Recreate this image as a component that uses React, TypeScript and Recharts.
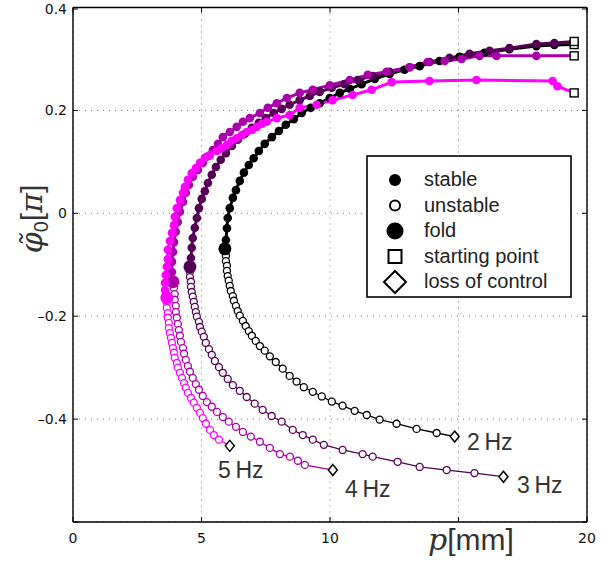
import React from "react";
import { LineChart, Line, XAxis, YAxis, CartesianGrid } from "recharts";

type Pt = [number, number];

// tick values
const xTicks = [0, 5, 10, 15, 20];
const yTicks = [-0.6, -0.4, -0.2, 0, 0.2, 0.4];
const xTickLabels: Record<string, string> = { "0": "0", "5": "5", "10": "10", "20": "20" };
const yTickLabels: Record<string, string> = {
  "-0.4": "\u20130.4",
  "-0.2": "\u20130.2",
  "0": "0",
  "0.2": "0.2",
  "0.4": "0.4",
};

// 2 Hz: branches start at the fold point
const stable2Hz: Pt[] = [
  [5.91, -0.069], [5.95, -0.052], [5.99, -0.029], [6.02, -0.009], [6.1, 0.01], [6.22, 0.03], [6.34, 0.045],
  [6.49, 0.063], [6.65, 0.079], [6.84, 0.094], [7.03, 0.107], [7.23, 0.121], [7.46, 0.135], [7.74, 0.148],
  [8.01, 0.16], [8.28, 0.172], [8.59, 0.183], [8.9, 0.195], [9.25, 0.205], [9.6, 0.214], [9.99, 0.224],
  [10.38, 0.234], [10.77, 0.242], [11.23, 0.251], [11.74, 0.261], [12.32, 0.271], [12.9, 0.279], [13.49, 0.286],
  [14.26, 0.296], [15.04, 0.304], [16.01, 0.312], [16.98, 0.319], [18.03, 0.325], [18.73, 0.327], [19.5, 0.328],
];
const unstable2Hz: Pt[] = [
  [5.91, -0.069], [5.95, -0.083], [5.95, -0.093], [5.99, -0.102], [5.99, -0.112], [6.02, -0.122], [6.06, -0.131],
  [6.1, -0.141], [6.14, -0.151], [6.22, -0.161], [6.26, -0.17], [6.34, -0.18], [6.41, -0.19], [6.49, -0.199],
  [6.61, -0.209], [6.72, -0.219], [6.84, -0.229], [6.96, -0.238], [7.11, -0.248], [7.27, -0.258], [7.46, -0.267],
  [7.66, -0.278], [7.89, -0.289], [8.16, -0.302], [8.43, -0.316], [8.7, -0.327], [8.98, -0.338], [9.33, -0.347],
  [9.68, -0.356], [10.07, -0.366], [10.49, -0.374], [10.96, -0.384], [11.43, -0.392], [11.93, -0.401],
  [12.59, -0.409], [13.37, -0.419], [14.15, -0.427], [14.85, -0.434],
];

// 3 Hz
const stable3Hz: Pt[] = [
  [4.55, -0.104], [4.59, -0.087], [4.62, -0.067], [4.66, -0.048], [4.74, -0.028], [4.82, -0.009], [4.9, 0.01],
  [5.01, 0.028], [5.13, 0.043], [5.25, 0.059], [5.4, 0.075], [5.56, 0.09], [5.75, 0.104], [5.95, 0.117],
  [6.18, 0.131], [6.41, 0.143], [6.68, 0.154], [6.96, 0.166], [7.23, 0.176], [7.5, 0.185], [7.81, 0.195],
  [8.12, 0.203], [8.43, 0.211], [8.82, 0.22], [9.21, 0.228], [9.6, 0.236], [10.07, 0.244], [10.57, 0.251],
  [11.08, 0.259], [11.66, 0.267], [12.32, 0.275], [13.1, 0.284], [13.87, 0.294], [14.65, 0.302], [15.43, 0.31],
  [16.21, 0.316], [16.98, 0.321], [18.03, 0.329], [18.73, 0.331], [19.5, 0.334],
];
const unstable3Hz: Pt[] = [
  [4.55, -0.104], [4.55, -0.114], [4.55, -0.124], [4.59, -0.133], [4.59, -0.143], [4.62, -0.153], [4.66, -0.162],
  [4.7, -0.172], [4.74, -0.182], [4.78, -0.192], [4.82, -0.201], [4.9, -0.211], [4.94, -0.221], [5.01, -0.23],
  [5.09, -0.24], [5.17, -0.252], [5.29, -0.264], [5.4, -0.275], [5.52, -0.287], [5.68, -0.299], [5.83, -0.31],
  [6.02, -0.322], [6.22, -0.334], [6.49, -0.345], [6.76, -0.357], [7.07, -0.37], [7.38, -0.382], [7.73, -0.394],
  [8.12, -0.405], [8.55, -0.421], [8.94, -0.431], [9.33, -0.44], [9.76, -0.45], [10.49, -0.46], [11.27, -0.468],
  [11.66, -0.473], [12.63, -0.483], [13.49, -0.493], [14.54, -0.499], [15.62, -0.505], [16.75, -0.512],
];

// 4 Hz
const stable4Hz: Pt[] = [
  [3.89, -0.133], [3.85, -0.114], [3.85, -0.094], [3.89, -0.075], [3.93, -0.056], [4.0, -0.036], [4.08, -0.017],
  [4.16, 0.003], [4.28, 0.022], [4.39, 0.04], [4.51, 0.055], [4.66, 0.071], [4.86, 0.084], [5.05, 0.098],
  [5.25, 0.111], [5.44, 0.123], [5.64, 0.135], [5.83, 0.148], [6.1, 0.158], [6.37, 0.168], [6.61, 0.178],
  [6.88, 0.185], [7.27, 0.195], [7.58, 0.205], [7.93, 0.214], [8.32, 0.224], [8.82, 0.234], [9.33, 0.24],
  [9.99, 0.249], [10.77, 0.259], [11.47, 0.269], [12.2, 0.275], [13.1, 0.284], [13.8, 0.294], [14.46, 0.296],
  [15.12, 0.3], [15.82, 0.306], [16.48, 0.306], [18.03, 0.306], [19.5, 0.306],
];
const unstable4Hz: Pt[] = [
  [3.89, -0.133], [3.93, -0.145], [3.96, -0.157], [3.96, -0.168], [4.0, -0.18], [4.0, -0.192], [4.04, -0.203],
  [4.08, -0.215], [4.12, -0.227], [4.16, -0.238], [4.2, -0.25], [4.28, -0.262], [4.32, -0.273], [4.39, -0.285],
  [4.47, -0.297], [4.55, -0.308], [4.66, -0.32], [4.78, -0.332], [4.9, -0.343], [5.05, -0.355], [5.21, -0.367],
  [5.4, -0.376], [5.6, -0.386], [5.83, -0.396], [6.06, -0.405], [6.34, -0.415], [6.61, -0.425], [6.92, -0.434],
  [7.27, -0.444], [7.66, -0.456], [8.05, -0.468], [8.44, -0.473], [8.75, -0.481], [9.02, -0.489], [10.11, -0.499],
];

// 5 Hz
const stable5Hz: Pt[] = [
  [3.65, -0.164], [3.58, -0.149], [3.58, -0.135], [3.61, -0.12], [3.65, -0.104], [3.69, -0.089], [3.69, -0.071],
  [3.77, -0.054], [3.85, -0.038], [3.93, -0.023], [3.96, -0.007], [4.04, 0.01], [4.16, 0.026], [4.28, 0.04],
  [4.35, 0.051], [4.47, 0.065], [4.62, 0.078], [4.78, 0.088], [4.94, 0.098], [5.13, 0.108], [5.33, 0.113],
  [5.6, 0.121], [5.79, 0.127], [5.99, 0.133], [6.18, 0.141], [6.37, 0.146], [6.57, 0.152], [6.76, 0.158],
  [6.96, 0.162], [7.15, 0.168], [7.35, 0.174], [7.54, 0.178], [7.93, 0.185], [8.43, 0.191], [8.82, 0.205],
  [9.48, 0.211], [10.1, 0.22], [10.88, 0.23], [11.62, 0.24], [12.4, 0.255], [13.87, 0.257], [15.7, 0.259],
  [18.66, 0.257], [18.85, 0.247], [19.5, 0.234],
];
const unstable5Hz: Pt[] = [
  [3.65, -0.164], [3.65, -0.174], [3.65, -0.184], [3.69, -0.194], [3.69, -0.203], [3.73, -0.213], [3.73, -0.223],
  [3.77, -0.233], [3.81, -0.242], [3.85, -0.252], [3.89, -0.262], [3.93, -0.271], [3.96, -0.281], [4.04, -0.291],
  [4.08, -0.3], [4.16, -0.31], [4.24, -0.32], [4.32, -0.33], [4.39, -0.339], [4.47, -0.349], [4.59, -0.359],
  [4.7, -0.368], [4.82, -0.378], [4.94, -0.388], [5.05, -0.398], [5.17, -0.409], [5.33, -0.421], [5.48, -0.431],
  [5.68, -0.44], [6.1, -0.452],
];

const series = [
  { name: "2 Hz", color: "#000000", stable: stable2Hz, unstable: unstable2Hz },
  { name: "3 Hz", color: "#550055", stable: stable3Hz, unstable: unstable3Hz },
  { name: "4 Hz", color: "#aa00aa", stable: stable4Hz, unstable: unstable4Hz },
  { name: "5 Hz", color: "#ff00ff", stable: stable5Hz, unstable: unstable5Hz },
];

const toRows = (pts: Pt[]) => pts.map(([x, y]) => ({ x, y }));

const sans = "'Liberation Sans', Arial, sans-serif";
const tickFont = "'DejaVu Sans', sans-serif";

const stableDot = (color: string, last: number) => (p: any) => {
  const { cx, cy, index } = p;
  if (index === 0) return <circle key={`f${index}`} cx={cx} cy={cy} r={6.5} fill={color} />;
  if (index === last)
    return <rect key={`s${index}`} x={cx - 4} y={cy - 4} width={8} height={8} fill="#fff" stroke="#000" strokeWidth={1.4} />;
  return <circle key={`d${index}`} cx={cx} cy={cy} r={4.3} fill={color} />;
};

const unstableDot = (color: string, last: number) => (p: any) => {
  const { cx, cy, index } = p;
  if (index === 0) return <g key={`n${index}`} />;
  if (index === last)
    return (
      <path
        key={`l${index}`}
        d={`M${cx},${cy - 5.5} L${cx + 4.5},${cy} L${cx},${cy + 5.5} L${cx - 4.5},${cy} Z`}
        fill="#fff"
        stroke="#000"
        strokeWidth={1.5}
      />
    );
  return <circle key={`o${index}`} cx={cx} cy={cy} r={3.5} fill="#fff" stroke={color} strokeWidth={1.3} />;
};

const BottomTick = ({ x, y, payload }: any) => {
  const label = xTickLabels[String(payload.value)];
  return (
    <g>
      <line x1={x} x2={x} y1={y} y2={y - 5} stroke="#000" strokeWidth={1} />
      {label && (
        <text x={x} y={y + 21} textAnchor="middle" fontSize={14} fontFamily={tickFont} fill="#111">
          {label}
        </text>
      )}
    </g>
  );
};

const LeftTick = ({ x, y, payload }: any) => {
  const label = yTickLabels[String(payload.value)];
  return (
    <g>
      <line x1={x} x2={x + 5} y1={y} y2={y} stroke="#000" strokeWidth={1} />
      {label && (
        <text x={x - 6} y={y} dy="0.36em" textAnchor="end" fontSize={14} fontFamily={tickFont} fill="#111">
          {label}
        </text>
      )}
    </g>
  );
};

const TopTick = ({ x, y }: any) => <line x1={x} x2={x} y1={y} y2={y + 5} stroke="#000" strokeWidth={1} />;
const RightTick = ({ x, y }: any) => <line x1={x} x2={x - 5} y1={y} y2={y} stroke="#000" strokeWidth={1} />;

const legendRows = [
  { label: "stable", kind: "stable" },
  { label: "unstable", kind: "unstable" },
  { label: "fold", kind: "fold" },
  { label: "starting point", kind: "start" },
  { label: "loss of control", kind: "loss" },
];

const LegendMarker = ({ kind, cx, cy }: { kind: string; cx: number; cy: number }) => {
  if (kind === "stable") return <circle cx={cx} cy={cy} r={6} fill="#000" />;
  if (kind === "unstable") return <circle cx={cx} cy={cy} r={5} fill="#fff" stroke="#000" strokeWidth={2} />;
  if (kind === "fold") return <circle cx={cx} cy={cy} r={8.5} fill="#000" />;
  if (kind === "start")
    return <rect x={cx - 6.5} y={cy - 6.5} width={13} height={13} fill="#fff" stroke="#000" strokeWidth={2} />;
  return (
    <path
      d={`M${cx},${cy - 11} L${cx + 11},${cy} L${cx},${cy + 11} L${cx - 11},${cy} Z`}
      fill="#fff"
      stroke="#000"
      strokeWidth={2}
    />
  );
};

export default function App() {
  return (
    <div style={{ position: "absolute", left: 0, top: 0, width: 610, height: 563, background: "#fff" }}>
      <LineChart width={610} height={563} margin={{ top: 6.5, right: 22, bottom: 11, left: 33 }}>
        <CartesianGrid stroke="#777" strokeDasharray="1 5" strokeWidth={1} />
        <XAxis
          dataKey="x"
          type="number"
          domain={[0, 20]}
          ticks={xTicks}
          allowDataOverflow
          height={30}
          tickSize={0}
          tickMargin={0}
          tickLine={false}
          axisLine={{ stroke: "#000", strokeWidth: 1.4 }}
          tick={<BottomTick />}
        />
        <XAxis
          xAxisId="top"
          orientation="top"
          dataKey="x"
          type="number"
          domain={[0, 20]}
          ticks={xTicks}
          allowDataOverflow
          height={1}
          tickSize={0}
          tickMargin={0}
          tickLine={false}
          axisLine={{ stroke: "#000", strokeWidth: 1.4 }}
          tick={<TopTick />}
        />
        <YAxis
          type="number"
          domain={[-0.6, 0.4]}
          ticks={yTicks}
          allowDataOverflow
          width={40}
          tickSize={0}
          tickMargin={0}
          tickLine={false}
          axisLine={{ stroke: "#000", strokeWidth: 1.4 }}
          tick={<LeftTick />}
        />
        <YAxis
          yAxisId="right"
          orientation="right"
          type="number"
          domain={[-0.6, 0.4]}
          ticks={yTicks}
          allowDataOverflow
          width={1}
          tickSize={0}
          tickMargin={0}
          tickLine={false}
          axisLine={{ stroke: "#000", strokeWidth: 1.4 }}
          tick={<RightTick />}
        />
        {series.flatMap((s) => [
          <Line
            key={`${s.name}-u`}
            data={toRows(s.unstable)}
            dataKey="y"
            type="linear"
            stroke={s.color}
            strokeWidth={1.3}
            dot={unstableDot(s.color, s.unstable.length - 1)}
            activeDot={false}
            isAnimationActive={false}
          />,
          <Line
            key={`${s.name}-s`}
            data={toRows(s.stable)}
            dataKey="y"
            type="linear"
            stroke={s.color}
            strokeWidth={3}
            dot={stableDot(s.color, s.stable.length - 1)}
            activeDot={false}
            isAnimationActive={false}
          />,
        ])}
      </LineChart>
      <svg width={610} height={563} style={{ position: "absolute", left: 0, top: 0, pointerEvents: "none" }}>
        <rect x={367} y={156} width={204} height={141} fill="#fff" stroke="#000" strokeWidth={1.6} />
        {legendRows.map((r, i) => (
          <g key={r.label}>
            <LegendMarker kind={r.kind} cx={395} cy={180 + i * 25.5} />
            <text x={424} y={186 + i * 25.5} fontSize={20} fontFamily={sans} fill="#222">
              {r.label}
            </text>
          </g>
        ))}
        <g fontSize={23} fontFamily={sans} fill="#333">
          <text x={467} y={450}>2{"\u2009"}Hz</text>
          <text x={517} y={493}>3{"\u2009"}Hz</text>
          <text x={345} y={497}>4{"\u2009"}Hz</text>
          <text x={218} y={478}>5{"\u2009"}Hz</text>
        </g>
        <text x={428} y={550} fontSize={30} fill="#333" fontFamily={sans}>
          <tspan fontFamily="'DejaVu Serif', serif" fontStyle="italic">p</tspan>
          <tspan>[mm]</tspan>
        </text>
        <text
          x={42}
          y={219}
          transform="rotate(-90 42 219)"
          textAnchor="middle"
          fontSize={30}
          fill="#333"
          fontFamily={sans}
        >
          <tspan fontFamily="'DejaVu Serif', serif" fontStyle="italic">{"\u03c6\u0303"}</tspan>
          <tspan fontSize={20} dy={6}>0</tspan>
          <tspan dy={-6}>[</tspan>
          <tspan fontFamily="'DejaVu Serif', serif" fontStyle="italic">{"\u03c0"}</tspan>
          <tspan>]</tspan>
        </text>
      </svg>
    </div>
  );
}
